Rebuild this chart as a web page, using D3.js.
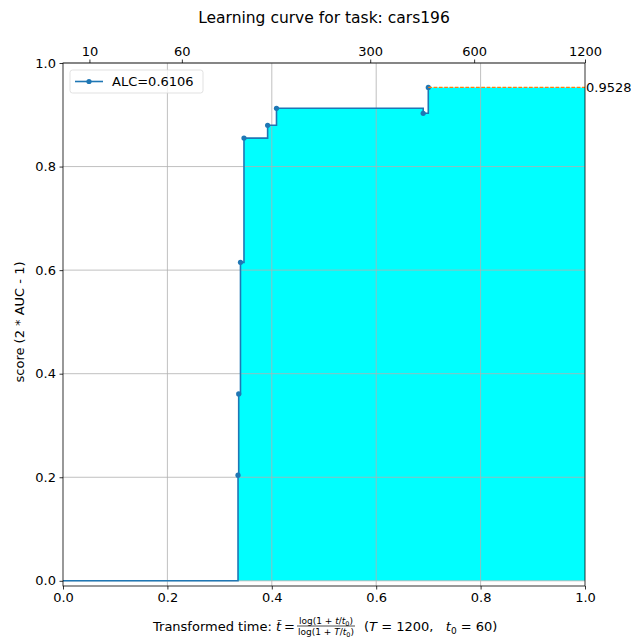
<!DOCTYPE html>
<html>
<head>
<meta charset="utf-8">
<script src="https://cdn.jsdelivr.net/npm/d3@7"></script>
<style>
body{margin:0;background:#fff;}
text{font-family:"DejaVu Sans",sans-serif;fill:#000;}
</style>
</head>
<body>
<script>
/* learning curve data */
var timeT = [0, 0.3353, 0.3366, 0.340, 0.3467, 0.392, 0.409, 0.690, 0.6998];
var scores = [0, 0.204, 0.361, 0.615, 0.855, 0.8797, 0.9125, 0.9029, 0.9528];
var alc = "0.6106";
var xTicks = [0, 0.2, 0.4, 0.6, 0.8, 1.0];
var yTicks = [0, 0.2, 0.4, 0.6, 0.8, 1.0];
var topTicks = [10, 60, 300, 600, 1200];
var T = 1200, t0 = 60;

var width = 631, height = 641;
var pLeft = 63, pRight = 585, pTop = 63, pBottom = 586;

var x = d3.scaleLinear().domain([0, 1]).range([pLeft, pRight]);
var y = d3.scaleLinear().domain([-0.01, 1]).range([pBottom, pTop]);
var tr = function(t){ return Math.log(1 + t / t0) / Math.log(1 + T / t0); };

var data = timeT.map(function(d, i){ return {t: d, s: scores[i]}; });
var last = data[data.length - 1];

var svg = d3.select("body").append("svg").attr("width", width).attr("height", height);

// fill
var fillData = data.concat([{t: 1, s: last.s}]);
var area = d3.area().curve(d3.curveStepAfter)
  .x(function(d){ return x(d.t); }).y0(y(0)).y1(function(d){ return y(d.s); });
svg.append("path").datum(fillData).attr("d", area).attr("fill", "#00ffff");

// grid (on top of the fill, as in the reference)
svg.append("g").selectAll("line").data(xTicks.slice(1, -1)).enter().append("line")
  .attr("x1", function(d){ return x(d); }).attr("x2", function(d){ return x(d); })
  .attr("y1", pTop).attr("y2", pBottom).attr("stroke", "#b0b0b0").attr("stroke-width", 0.8);
svg.append("g").selectAll("line").data(yTicks).enter().append("line")
  .attr("x1", pLeft).attr("x2", pRight)
  .attr("y1", function(d){ return y(d); }).attr("y2", function(d){ return y(d); })
  .attr("stroke", "#b0b0b0").attr("stroke-width", 0.8);

// step line
var line = d3.line().curve(d3.curveStepAfter)
  .x(function(d){ return x(d.t); }).y(function(d){ return y(d.s); });
svg.append("path").datum(data).attr("d", line).attr("fill", "none")
  .attr("stroke", "#1f77b4").attr("stroke-width", 1.6);
svg.append("g").selectAll("circle").data(data.slice(1)).enter().append("circle")
  .attr("cx", function(d){ return x(d.t); }).attr("cy", function(d){ return y(d.s); })
  .attr("r", 2.6).attr("fill", "#1f77b4");

// final score dashed
svg.append("line").attr("x1", x(last.t)).attr("x2", x(1))
  .attr("y1", y(last.s)).attr("y2", y(last.s))
  .attr("stroke", "#ff7f0e").attr("stroke-width", 1.2).attr("stroke-dasharray", "3.7,1.6");
svg.append("text").attr("x", x(1) + 1).attr("y", y(last.s)).attr("dy", "0.35em")
  .attr("font-size", "13px").text(last.s.toFixed(4));

// frame
svg.append("rect").attr("x", pLeft).attr("y", pTop).attr("width", pRight - pLeft).attr("height", pBottom - pTop)
  .attr("fill", "none").attr("stroke", "#000").attr("stroke-width", 0.8);

// axes
var fmt = d3.format(".1f");
var xAxis = svg.append("g").attr("transform", "translate(0," + pBottom + ")")
  .call(d3.axisBottom(x).tickValues(xTicks).tickFormat(fmt).tickSize(3.5).tickPadding(3.5));
var yAxis = svg.append("g").attr("transform", "translate(" + pLeft + ",0)")
  .call(d3.axisLeft(y).tickValues(yTicks).tickFormat(fmt).tickSize(3.5).tickPadding(3.5));
var topAxis = svg.append("g").attr("transform", "translate(0," + pTop + ")")
  .call(d3.axisTop(x).tickValues(topTicks.map(tr)).tickFormat(function(d, i){ return topTicks[i]; })
    .tickSize(3.5).tickPadding(3.5));
[xAxis, yAxis, topAxis].forEach(function(g){
  g.select(".domain").remove();
  g.selectAll("text").attr("font-size", "13px").attr("font-family", "DejaVu Sans").attr("fill", "#000");
  g.selectAll("line").attr("stroke", "#000").attr("stroke-width", 0.8);
});

// title
svg.append("text").attr("x", 324).attr("y", 23).attr("text-anchor", "middle")
  .attr("font-size", "15.5px").text("Learning curve for task: cars196");

// y label
svg.append("text").attr("transform", "translate(24,322) rotate(-90)").attr("text-anchor", "middle")
  .attr("font-size", "13px").text("score (2 * AUC - 1)");

// x label with fraction
var xl = svg.append("g").attr("transform", "translate(153,631)");
xl.append("text").attr("x", 0).attr("y", 0).attr("font-size", "13px").text("Transformed time:");
xl.append("text").attr("x", 123).attr("y", 0).attr("font-size", "13px").attr("font-style", "italic").text("t\u0303");
xl.append("text").attr("x", 131).attr("y", 0).attr("font-size", "13px").text("=");
xl.append("text").attr("x", 173).attr("y", -7).attr("text-anchor", "middle").attr("font-size", "9px")
  .html("log(1 + <tspan font-style='italic'>t</tspan>/<tspan font-style='italic'>t</tspan><tspan font-size='6.5px' dy='2'>0</tspan><tspan dy='-2'>)</tspan>");
xl.append("line").attr("x1", 144).attr("x2", 202).attr("y1", -5).attr("y2", -5).attr("stroke", "#000").attr("stroke-width", 0.7);
xl.append("text").attr("x", 173).attr("y", 4).attr("text-anchor", "middle").attr("font-size", "9px")
  .html("log(1 + <tspan font-style='italic'>T</tspan>/<tspan font-style='italic'>t</tspan><tspan font-size='6.5px' dy='2'>0</tspan><tspan dy='-2'>)</tspan>");
xl.append("text").attr("x", 211).attr("y", 0).attr("font-size", "13px")
  .html("(<tspan font-style='italic'>T</tspan> = 1200,&#160;&#160;&#160;<tspan font-style='italic'>t</tspan><tspan font-size='9px' dy='3'>0</tspan><tspan dy='-3'> = 60)</tspan>");

// legend
var lg = svg.append("g").attr("transform", "translate(70,70)");
lg.append("rect").attr("width", 133).attr("height", 23).attr("rx", 2.5)
  .attr("fill", "#fff").attr("fill-opacity", 0.8).attr("stroke", "#d9d9d9").attr("stroke-width", 0.8);
lg.append("line").attr("x1", 5).attr("x2", 33).attr("y1", 11.5).attr("y2", 11.5)
  .attr("stroke", "#1f77b4").attr("stroke-width", 1.6);
lg.append("circle").attr("cx", 19).attr("cy", 11.5).attr("r", 2.6).attr("fill", "#1f77b4");
lg.append("text").attr("x", 42).attr("y", 11.5).attr("dy", "0.35em").attr("font-size", "13px").text("ALC=" + alc);
</script>
</body>
</html>
